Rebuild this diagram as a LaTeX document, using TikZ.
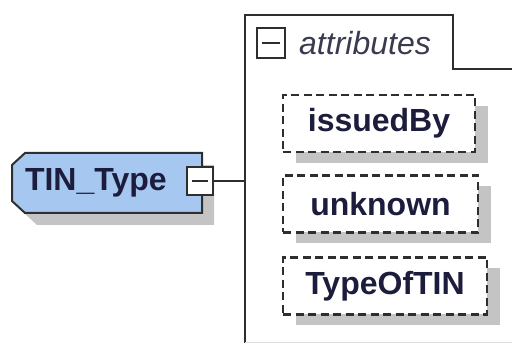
\documentclass[tikz,border=0pt]{standalone}
\usepackage{fontspec}
\setmainfont{Liberation Sans}
\definecolor{txt}{HTML}{1C1C3C}
\definecolor{attrtxt}{HTML}{3A3A50}
\definecolor{tinfill}{HTML}{A6C8F0}
\definecolor{shadowgray}{HTML}{C4C4C4}
\definecolor{edge}{HTML}{2E2E2E}
\usetikzlibrary{shadows}
\tikzset{
  lbl/.style={font=\fontsize{32}{36}\selectfont\bfseries, text=txt},
  attrbox/.style={draw=edge, fill=white, line width=2.5pt, dash pattern=on 8pt off 4.5pt,
    minimum height=57pt, inner sep=0pt, lbl,
    general shadow={fill=shadowgray, shadow xshift=13pt, shadow yshift=-11pt}},
  minusbox/.style={draw=edge, fill=white, line width=2pt, inner sep=0pt},
  cont/.style={draw=edge, line width=2.2pt},
}
\begin{document}
\begin{tikzpicture}[x=1pt,y=1pt]
\useasboundingbox (0,0) rectangle (512,343);
% container
\draw[cont] (545,274) -- (453,274) -- (453,328) -- (245,328) -- (245,-10);
\draw[shadowgray!60, line width=1pt] (245,0.5) -- (520,0.5);
\coordinate (contleft) at (245,162);
% main element shape
\fill[shadowgray, shift={(12,-12)}] (25,190) -- (202,190) -- (202,130) -- (25,130) -- (12,142) -- (12,178) -- cycle;
\draw[edge, line width=2pt, fill=tinfill] (25,190) -- (202,190) -- (202,130) -- (25,130) -- (12,142) -- (12,178) -- cycle;
\node[minimum width=190pt, minimum height=60pt, inner xsep=13pt, inner ysep=0pt,
  text width=164pt, align=left, lbl] (tin) at (107,160) {TIN\_Type};
\node[minusbox, minimum width=26pt, minimum height=28pt] (tinminus) at (200,162) {};
\draw[edge, line width=2pt] ([xshift=-8pt]tinminus.center) -- ([xshift=8pt]tinminus.center);
\draw[cont] (tinminus.east) -- (contleft);
% attributes header
\node[minusbox, minimum width=28pt, minimum height=30pt] (attrminus) at (271,300) {};
\draw[edge, line width=2pt] ([xshift=-9pt]attrminus.center) -- ([xshift=9pt]attrminus.center);
\node[anchor=west, inner sep=0pt, font=\fontsize{32}{36}\selectfont\itshape, text=attrtxt]
  (attrlbl) at (299,300) {attributes};
% attributes
\node[attrbox, minimum width=192pt] (issued) at (379,219.5) {issuedBy};
\node[attrbox, minimum width=195pt] (unknown) at (380.5,139) {unknown};
\node[attrbox, minimum width=204pt] (typeoftin) at (385,57) {TypeOfTIN};
\end{tikzpicture}
\end{document}
